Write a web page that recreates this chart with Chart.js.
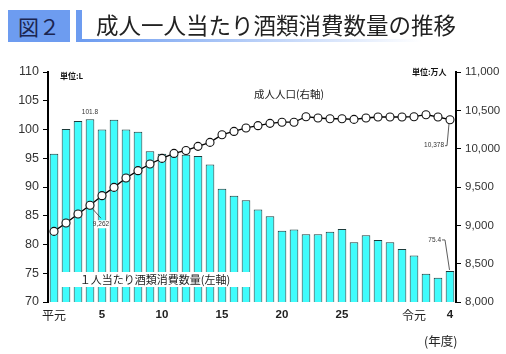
<!DOCTYPE html>
<html>
<head>
<meta charset="utf-8">
<script src="https://cdn.jsdelivr.net/npm/chart.js@4/dist/chart.umd.min.js"></script>
<style>
  body { margin: 0; background: #fff; }
  #wrap { position: relative; width: 506px; height: 354px; }
  #chart { position: absolute; left: 0; top: 0; }
  .fig { position: absolute; left: 8px; top: 10px; width: 62px; height: 32px; background: #6d9cf0;
         color: #1b2550; font: 21px "Noto Sans CJK JP"; line-height: 32px; text-align: center; }
  .bar { position: absolute; left: 76px; top: 10px; width: 6px; height: 32px; background: #6d9cf0; }
  .line { position: absolute; left: 82px; top: 39px; width: 340px; height: 3px;
          background: linear-gradient(to right, #6d9cf0, #ffffff); }
  .ttl { position: absolute; left: 96px; top: 8px; font: 22.5px "Noto Sans CJK JP"; color: #222; line-height: 32px; }
</style>
</head>
<body>
<div id="wrap">
  <canvas id="chart" width="506" height="354"></canvas>
  <div class="fig">図２</div>
  <div class="bar"></div>
  <div class="line"></div>
  <div class="ttl">成人一人当たり酒類消費数量の推移</div>
</div>
<script>
// 年度 (平成元年度～令和4年度)
const years = ['平元','2','3','4','5','6','7','8','9','10','11','12','13','14','15','16','17','18','19','20',
  '21','22','23','24','25','26','27','28','29','30','令元','2','3','4'];
const shownTicks = [0, 4, 9, 14, 19, 24, 30, 33];

// 成人1人当たり酒類消費数量 (L)
const perAdult = [95.8,100.1,101.5,101.8,100.0,101.7,100.0,99.6,96.2,95.8,95.6,95.6,95.4,93.9,89.7,88.5,87.7,
  86.1,84.9,82.4,82.6,81.8,81.8,82.2,82.7,80.4,81.6,80.8,80.4,79.2,78.1,74.9,74.2,75.4];

// 成人人口 (万人)
const adultPop = [8921,9030,9148,9262,9387,9495,9617,9713,9800,9873,9938,9977,10030,10082,10182,10225,10270,
  10300,10330,10345,10345,10417,10400,10390,10390,10382,10400,10413,10413,10413,10417,10443,10413,10378];

const leftTicks = { min: 70, max: 110, step: 5 };
const rightTicks = { min: 8000, max: 11000, step: 500 };

const JP = '"Noto Sans CJK JP"';
const LAT = '"Liberation Sans", Arial';

const notes = {
  id: 'notes',
  afterDatasetsDraw(chart) {
    const ctx = chart.ctx;
    const bars = chart.getDatasetMeta(1).data;
    const pts = chart.getDatasetMeta(0).data;
    ctx.save();
    ctx.fillStyle = '#111';
    ctx.textBaseline = 'middle';

    ctx.font = 'bold 8px ' + JP;
    ctx.textAlign = 'left';
    ctx.fillText('単位:L', 60, 76);
    ctx.fillText('単位:万人', 412, 72);

    ctx.font = '10.5px ' + JP;
    ctx.fillStyle = '#222';
    ctx.fillText('成人人口(右軸)', 254, 94);

    // legend box for bars
    ctx.fillStyle = '#fff';
    ctx.fillRect(60, 272, 190, 15);
    ctx.fillStyle = '#222';
    ctx.font = '11px ' + JP;
    ctx.textAlign = 'center';
    ctx.fillText('１人当たり酒類消費数量(左軸)', 155, 280);

    // small value labels
    ctx.font = '6.5px ' + LAT;
    ctx.fillStyle = '#333';
    const b3 = bars[3];
    ctx.fillText('101.8', b3.x, b3.y - 7);

    ctx.strokeStyle = '#333';
    ctx.lineWidth = 0.8;
    const p3 = pts[3];
    ctx.beginPath();
    ctx.moveTo(p3.x + 2, p3.y + 3);
    ctx.lineTo(p3.x + 11, p3.y + 13);
    ctx.stroke();
    ctx.fillStyle = '#fff';
    ctx.fillRect(p3.x + 4, p3.y + 15, 14, 8);
    ctx.fillStyle = '#333';
    ctx.fillText('9,262', p3.x + 11, p3.y + 19);

    const pl = pts[pts.length - 1];
    ctx.beginPath();
    ctx.moveTo(pl.x - 5, pl.y + 26);
    ctx.lineTo(pl.x - 3, pl.y + 26);
    ctx.lineTo(pl.x - 1, pl.y + 4);
    ctx.stroke();
    ctx.textAlign = 'right';
    ctx.fillText('10,378', pl.x - 6, pl.y + 26);

    const bl = bars[bars.length - 1];
    ctx.beginPath();
    ctx.moveTo(bl.x - 8, bl.y - 31);
    ctx.lineTo(bl.x - 5, bl.y - 31);
    ctx.lineTo(bl.x - 0.5, bl.y - 1);
    ctx.stroke();
    ctx.fillText('75.4', bl.x - 9, bl.y - 31);

    ctx.font = '12.5px ' + JP;
    ctx.fillStyle = '#222';
    ctx.textAlign = 'left';
    ctx.fillText('(年度)', 424, 341);
    ctx.restore();
  }
};

new Chart(document.getElementById('chart'), {
  data: {
    labels: years,
    datasets: [
      {
        type: 'line',
        label: '成人人口(右軸)',
        data: adultPop,
        yAxisID: 'y1',
        borderColor: '#000',
        borderWidth: 1.3,
        pointRadius: 4,
        pointBackgroundColor: '#fff',
        pointBorderColor: '#111',
        pointBorderWidth: 1.1,
        tension: 0,
        order: 0
      },
      {
        type: 'bar',
        label: '１人当たり酒類消費数量(左軸)',
        data: perAdult,
        yAxisID: 'y',
        backgroundColor: '#40fcfc',
        borderColor: '#1d3b3b',
        borderWidth: 1,
        barPercentage: 0.72,
        categoryPercentage: 1,
        order: 1
      }
    ]
  },
  options: {
    responsive: false,
    animation: false,
    layout: { padding: { top: 72, left: 0, right: 0, bottom: 0 } },
    plugins: { legend: { display: false }, tooltip: { enabled: false }, title: { display: false } },
    scales: {
      x: {
        grid: { display: false, drawTicks: false },
        border: { display: false },
        afterFit: s => { s.height = 52; },
        ticks: {
          autoSkip: false,
          maxRotation: 0,
          padding: 6,
          color: '#222',
          font: c => {
            const l = years[c.index] || '';
            return /[平令]/.test(l) ? { family: JP, size: 12 } : { family: LAT, size: 11.5, weight: 'bold' };
          },
          callback: (v, i) => shownTicks.includes(i) ? years[i] : ''
        }
      },
      y: {
        position: 'left',
        min: leftTicks.min, max: leftTicks.max,
        afterFit: s => { s.width = 48; },
        grid: { drawOnChartArea: false, tickLength: 5, color: '#000' },
        border: { color: '#000', width: 2 },
        ticks: { stepSize: leftTicks.step, color: '#333', padding: 4, font: { family: LAT, size: 12.5 } }
      },
      y1: {
        position: 'right',
        min: rightTicks.min, max: rightTicks.max,
        afterFit: s => { s.width = 50; },
        grid: { drawOnChartArea: false, tickLength: 5, color: '#000' },
        border: { color: '#000', width: 2 },
        ticks: {
          stepSize: rightTicks.step, color: '#333', padding: 4, font: { family: LAT, size: 11.5 },
          callback: v => v.toLocaleString('en-US')
        }
      }
    }
  },
  plugins: [notes]
});
</script>
</body>
</html>
